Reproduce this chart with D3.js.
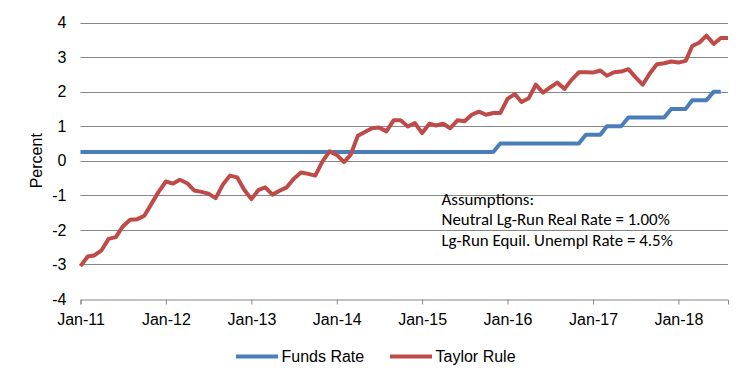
<!DOCTYPE html>
<html>
<head>
<meta charset="utf-8">
<script src="https://cdn.jsdelivr.net/npm/d3@7"></script>
<style>
  body { margin: 0; background: #fff; }
  svg { display: block; }
</style>
</head>
<body>
<div id="chart"></div>
<script>
// monthly observations, Jan-11 onward
var startMonth = "2011-01";
var fundsRate = [
  0.25, 0.25, 0.25, 0.25, 0.25, 0.25, 0.25, 0.25, 0.25, 0.25, 0.25, 0.25,
  0.25, 0.25, 0.25, 0.25, 0.25, 0.25, 0.25, 0.25, 0.25, 0.25, 0.25, 0.25,
  0.25, 0.25, 0.25, 0.25, 0.25, 0.25, 0.25, 0.25, 0.25, 0.25, 0.25, 0.25,
  0.25, 0.25, 0.25, 0.25, 0.25, 0.25, 0.25, 0.25, 0.25, 0.25, 0.25, 0.25,
  0.25, 0.25, 0.25, 0.25, 0.25, 0.25, 0.25, 0.25, 0.25, 0.25, 0.25, 0.5,
  0.5, 0.5, 0.5, 0.5, 0.5, 0.5, 0.5, 0.5, 0.5, 0.5, 0.5, 0.75,
  0.75, 0.75, 1.0, 1.0, 1.0, 1.25, 1.25, 1.25, 1.25, 1.25, 1.25, 1.5,
  1.5, 1.5, 1.75, 1.75, 1.75, 2.0, 2.0
];
var taylorRule = [
  -3.05, -2.77, -2.74, -2.59, -2.26, -2.21, -1.90, -1.71, -1.69, -1.59, -1.24, -0.90,
  -0.60, -0.66, -0.55, -0.65, -0.86, -0.90, -0.95, -1.08, -0.69, -0.43, -0.48, -0.84,
  -1.11, -0.84, -0.77, -0.98, -0.87, -0.77, -0.52, -0.34, -0.38, -0.43, -0.02, 0.27,
  0.17, -0.04, 0.17, 0.72, 0.83, 0.94, 0.96, 0.85, 1.17, 1.17, 0.99, 1.09,
  0.80, 1.07, 1.02, 1.07, 0.94, 1.17, 1.14, 1.33, 1.42, 1.33, 1.38, 1.38,
  1.79, 1.93, 1.70, 1.81, 2.20, 1.97, 2.12, 2.26, 2.08, 2.34, 2.56, 2.56,
  2.55, 2.61, 2.46, 2.56, 2.58, 2.65, 2.42, 2.20, 2.53, 2.79, 2.82, 2.87,
  2.84, 2.89, 3.32, 3.42, 3.62, 3.38, 3.55, 3.55
];
var yTicks = [-4, -3, -2, -1, 0, 1, 2, 3, 4];
var xTickYears = [2011, 2012, 2013, 2014, 2015, 2016, 2017, 2018];
var seriesNames = ["Funds Rate", "Taylor Rule"];
var seriesColors = ["#4a7ebb", "#be4b48"];
var noteLines = [
  "Assumptions:",
  "Neutral Lg-Run Real Rate = 1.00%",
  "Lg-Run Equil. Unempl Rate = 4.5%"
];

var W = 750, H = 385;
var margin = { top: 22.5, right: 22, bottom: 86, left: 80.5 };

var parseMonth = d3.timeParse("%Y-%m");
var start = parseMonth(startMonth);
function monthAt(i) { return d3.timeMonth.offset(start, i); }

var x = d3.scaleTime()
  .domain([start, monthAt(taylorRule.length - 1)])
  .range([margin.left, W - margin.right]);
var y = d3.scaleLinear()
  .domain([-4, 4])
  .range([H - margin.bottom, margin.top]);

var svg = d3.select("#chart").append("svg")
  .attr("width", W)
  .attr("height", H)
  .style("font-family", "'Liberation Sans', Arial, sans-serif");

// horizontal gridlines
svg.selectAll("line.grid")
  .data(yTicks.filter(function (d) { return d > -4; }))
  .enter().append("line")
  .attr("class", "grid")
  .attr("x1", margin.left)
  .attr("x2", W - margin.right)
  .attr("y1", function (d) { return Math.round(y(d)) + 0.5; })
  .attr("y2", function (d) { return Math.round(y(d)) + 0.5; })
  .style("stroke", "#868686")
  .style("stroke-width", "1px");

// x axis at the bottom (-4)
var xAxis = d3.axisBottom(x)
  .tickValues(xTickYears.map(function (yr) { return new Date(yr, 0, 1); }))
  .tickFormat(d3.timeFormat("%b-%y"))
  .tickSizeOuter(0)
  .tickSize(5)
  .tickPadding(9);
var gx = svg.append("g")
  .attr("class", "x axis")
  .attr("transform", "translate(0," + (Math.round(y(-4)) + 0.5) + ")")
  .call(xAxis);
gx.select(".domain").style("stroke", "#868686");
gx.selectAll(".tick line").style("stroke", "#868686");
gx.selectAll(".tick text")
  .style("font-size", "16px")
  .style("fill", "#000")
  .style("font-family", "'Liberation Sans', Arial, sans-serif");

// y tick labels only
var yAxis = d3.axisLeft(y)
  .tickValues(yTicks)
  .tickFormat(d3.format("d"))
  .tickSize(0)
  .tickPadding(14);
var gy = svg.append("g")
  .attr("class", "y axis")
  .attr("transform", "translate(" + margin.left + ",0)")
  .call(yAxis);
gy.select(".domain").remove();
gy.selectAll(".tick text")
  .style("font-size", "16px")
  .style("fill", "#000")
  .style("font-family", "'Liberation Sans', Arial, sans-serif")
  .text(function (d) { return d < 0 ? "-" + Math.abs(d) : d; });

svg.append("text")
  .attr("transform", "rotate(-90)")
  .attr("x", -(y(0)))
  .attr("y", 42)
  .style("text-anchor", "middle")
  .style("font-size", "16px")
  .style("fill", "#000")
  .text("Percent");

// series lines
var line = d3.line()
  .x(function (d, i) { return x(monthAt(i)); })
  .y(function (d) { return y(d); });

[fundsRate, taylorRule].forEach(function (data, k) {
  svg.append("path")
    .datum(data)
    .attr("class", "line")
    .attr("d", line)
    .style("fill", "none")
    .style("stroke", seriesColors[k])
    .style("stroke-width", "4px")
    .style("stroke-linejoin", "round");
});

// assumptions note
svg.append("g")
  .selectAll("text")
  .data(noteLines)
  .enter().append("text")
  .attr("x", 441.5)
  .attr("y", function (d, i) { return 204.5 + i * 20.6; })
  .style("font-family", "Carlito, Calibri, Lato, sans-serif")
  .style("font-size", "16.9px")
  .style("fill", "#000")
  .text(function (d) { return d; });

// legend
var legendX = [236, 390];
var legend = svg.append("g").attr("class", "legend");
seriesNames.forEach(function (name, k) {
  legend.append("line")
    .attr("x1", legendX[k])
    .attr("x2", legendX[k] + 42)
    .attr("y1", 356.5)
    .attr("y2", 356.5)
    .style("stroke", seriesColors[k])
    .style("stroke-width", "4px");
  legend.append("text")
    .attr("x", legendX[k] + 45.5)
    .attr("y", 362)
    .style("font-size", "16px")
    .style("fill", "#000")
    .text(name);
});
</script>
</body>
</html>
